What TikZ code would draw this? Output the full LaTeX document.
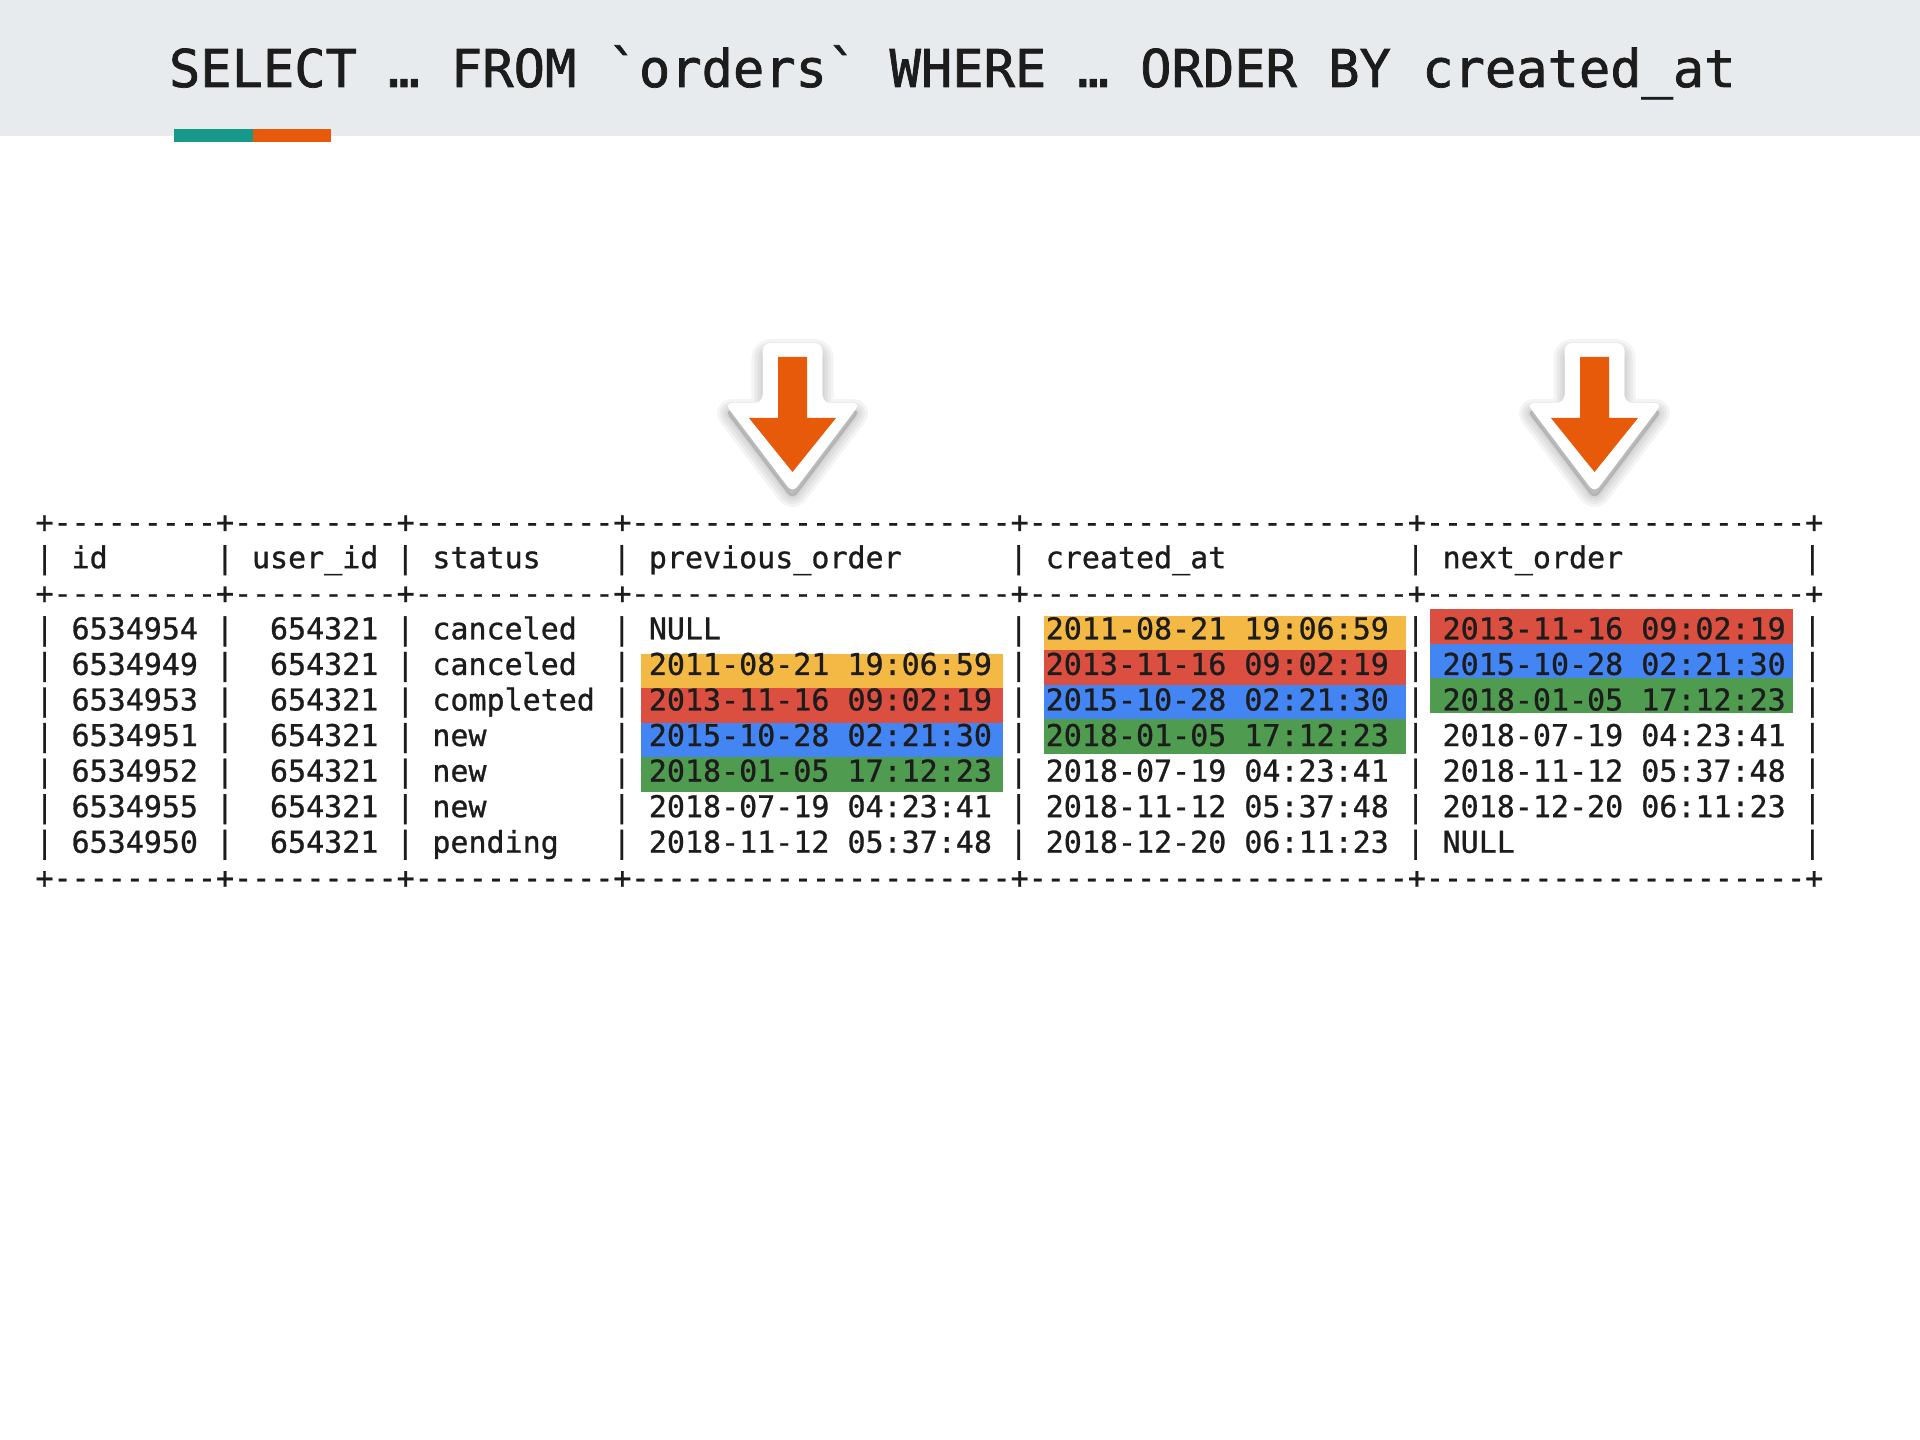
\documentclass[tikz,border=0pt]{standalone}
\usepackage{fontspec}
\setmonofont{DejaVu Sans Mono}
\usetikzlibrary{positioning,calc}

\definecolor{bandgray}{HTML}{E8EBED}
\definecolor{inkgray}{HTML}{1C1C1C}
\definecolor{barteal}{HTML}{16988A}
\definecolor{barorange}{HTML}{E85A0B}
\definecolor{arroworange}{HTML}{E65A0A}
\definecolor{hlyellow}{HTML}{F3B944}
\definecolor{hlred}{HTML}{DA4F3F}
\definecolor{hlblue}{HTML}{4385F3}
\definecolor{hlgreen}{HTML}{4F9B50}

\begin{document}
\begin{tikzpicture}
[x=0.01cm, y=-0.01cm,
every node/.style={inner sep=0pt, outer sep=0pt, text=inkgray},
titletext/.style={font=\ttfamily\fontsize{14.8pt}{18pt}\selectfont\addfontfeature{FakeBold=1.4}, anchor=base west},
cell/.style={font=\ttfamily\fontsize{8.53pt}{10pt}\selectfont\addfontfeature{FakeBold=0.9}, anchor=base west},
arrowedge/.style={fill=white, rounded corners=0.08cm},
arrowbody/.style={fill=arroworange}]
\useasboundingbox (0,0) rectangle (1920,1440);
\fill[bandgray] (0,0) rectangle (1920,136);
\fill[barteal] (174,129) rectangle (253,142);
\fill[barorange] (253,129) rectangle (331,142);
\node[titletext] (title) at (169,87) {SELECT … FROM `orders` WHERE … ORDER BY created\_at};

\foreach \cx in {792.5,1594.5} {
  \foreach \lw in {0.22,0.16,0.10,0.04}
    \filldraw[black, opacity=0.045, line width=\lw cm, line join=round, rounded corners=0.08cm]
      ({\cx-30},350) -- ({\cx+30},350) -- ({\cx+30},410) -- ({\cx+68},410) -- (\cx,500)
      -- ({\cx-68},410) -- ({\cx-30},410) -- cycle;
  \fill[arrowedge] ({\cx-30},343) -- ({\cx+30},343) -- ({\cx+30},403) -- ({\cx+68},403)
    -- (\cx,493) -- ({\cx-68},403) -- ({\cx-30},403) -- cycle;
  \fill[arrowbody] ({\cx-14.5},357) -- ({\cx+14.5},357) -- ({\cx+14.5},418) -- ({\cx+43.5},418)
    -- (\cx,472) -- ({\cx-43.5},418) -- ({\cx-14.5},418) -- cycle;
}

\foreach \c [count=\k from 0] in {hlyellow,hlred,hlblue,hlgreen}
  \fill[\c] (640.5,{654+34.5*\k}) rectangle ++(362.8,34.5);
\foreach \c [count=\k from 0] in {hlyellow,hlred,hlblue,hlgreen}
  \fill[\c] (1043.5,{616+34.5*\k}) rectangle ++(362.8,34.5);
\foreach \c [count=\k from 0] in {hlred,hlblue,hlgreen}
  \fill[\c] (1430,{609.5+34.5*\k}) rectangle ++(362.8,34.5);

\foreach \j in {0,2,10}
  \node[cell] (rule\j) at (35.5,{532.6+35.57*\j})
    {+---------+---------+-----------+---------------------+---------------------+---------------------+};
\foreach \j in {1,3,4,...,9}
  \foreach \i in {0,10,20,32,54,76,98}
    \node[cell] (bar\j-\i) at ({35.5+18.04*\i},{532.6+35.57*\j}) {|};
\foreach \txt/\i in {id/2,user\_id/12,status/22,previous\_order/34,created\_at/56,next\_order/78}
  \node[cell] (head\i) at ({35.5+18.04*\i},568.17) {\txt};

\foreach \id/\st/\po/\ca/\no [count=\r from 1] in {
  6534954/canceled/NULL/2011-08-21 19:06:59/2013-11-16 09:02:19,
  6534949/canceled/2011-08-21 19:06:59/2013-11-16 09:02:19/2015-10-28 02:21:30,
  6534953/completed/2013-11-16 09:02:19/2015-10-28 02:21:30/2018-01-05 17:12:23,
  6534951/new/2015-10-28 02:21:30/2018-01-05 17:12:23/2018-07-19 04:23:41,
  6534952/new/2018-01-05 17:12:23/2018-07-19 04:23:41/2018-11-12 05:37:48,
  6534955/new/2018-07-19 04:23:41/2018-11-12 05:37:48/2018-12-20 06:11:23,
  6534950/pending/2018-11-12 05:37:48/2018-12-20 06:11:23/NULL}
{
  \pgfmathsetmacro{\yb}{532.6+35.57*(\r+2)}
  \node[cell] (id\r) at (71.58,\yb) {\id};
  \node[cell] (user\r) at (270.02,\yb) {654321};
  \node[cell] (status\r) at (432.38,\yb) {\st};
  \node[cell] (prev\r) at (648.86,\yb) {\po};
  \node[cell] (created\r) at (1045.74,\yb) {\ca};
  \node[cell] (next\r) at (1442.62,\yb) {\no};
}
\end{tikzpicture}
\end{document}
